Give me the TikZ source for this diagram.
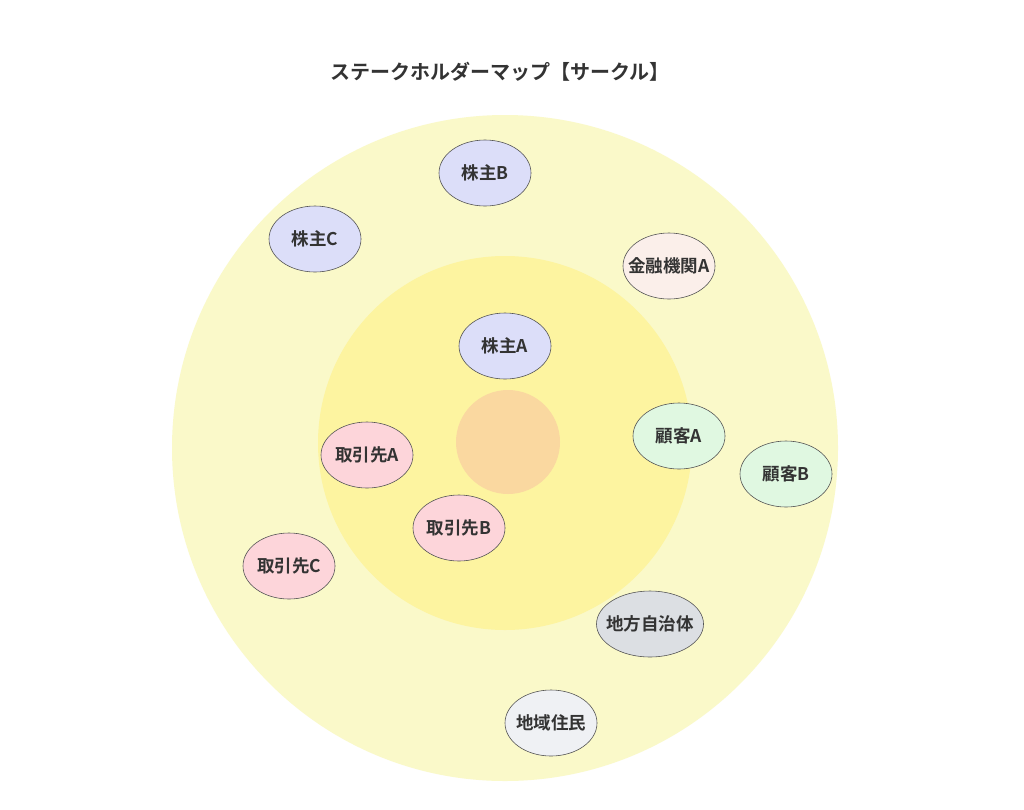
\documentclass[tikz,border=0pt]{standalone}
\usepackage{fontspec}
\setmainfont{Noto Sans CJK JP}[BoldFont={* Bold}]
\usetikzlibrary{shapes.geometric}
\definecolor{outerc}{HTML}{FAF9C9}
\definecolor{midc}{HTML}{FDF4A0}
\definecolor{innerc}{HTML}{FAD8A0}
\definecolor{txt}{HTML}{333333}
\definecolor{edge}{HTML}{555555}
\definecolor{share}{HTML}{DCDEF9}
\definecolor{fin}{HTML}{FBEFEA}
\definecolor{cust}{HTML}{E0F8E1}
\definecolor{supp}{HTML}{FDD5DA}
\definecolor{gov}{HTML}{DCDFE3}
\definecolor{res}{HTML}{EFF1F4}
\newcommand{\slbl}[1]{\makebox[0pt]{#1}}
\tikzset{
  stake/.style={ellipse, draw=edge, line width=0.6pt, minimum width=92pt, minimum height=66pt, inner sep=0pt, font=\fontsize{17.5}{20}\selectfont\bfseries, text=txt},
  ring/.style={circle, draw=none, inner sep=0pt}
}
\begin{document}
\begin{tikzpicture}[x=1pt,y=-1pt]
\useasboundingbox[fill=white] (0,0) rectangle (1024,809);
\node[ring, fill=outerc, minimum size=666pt] (outer) at (505,448) {};
\node[ring, fill=midc, minimum size=374pt] (mid) at (505,443) {};
\node[ring, fill=innerc, minimum size=104pt] (inner) at (508,442) {};
\node[font=\fontsize{20}{24}\selectfont\bfseries, text=txt] (title) at (500,72) {ステークホルダーマップ【サークル】};
\node[stake, fill=share] (sb) at (485,173) {\slbl{株主B}};
\node[stake, fill=share] (sc) at (315,239) {\slbl{株主C}};
\node[stake, fill=fin] (fa) at (669,266) {\slbl{金融機関A}};
\node[stake, fill=share] (sa) at (505,346) {\slbl{株主A}};
\node[stake, fill=cust] (ca) at (679,436) {\slbl{顧客A}};
\node[stake, fill=cust] (cb) at (786,474) {\slbl{顧客B}};
\node[stake, fill=supp] (ta) at (367,455) {\slbl{取引先A}};
\node[stake, fill=supp] (tb) at (459,528) {\slbl{取引先B}};
\node[stake, fill=supp] (tc) at (289,566) {\slbl{取引先C}};
\node[stake, fill=gov, minimum width=107pt] (gv) at (650,624) {\slbl{地方自治体}};
\node[stake, fill=res] (rs) at (551,723) {\slbl{地域住民}};
\end{tikzpicture}
\end{document}
